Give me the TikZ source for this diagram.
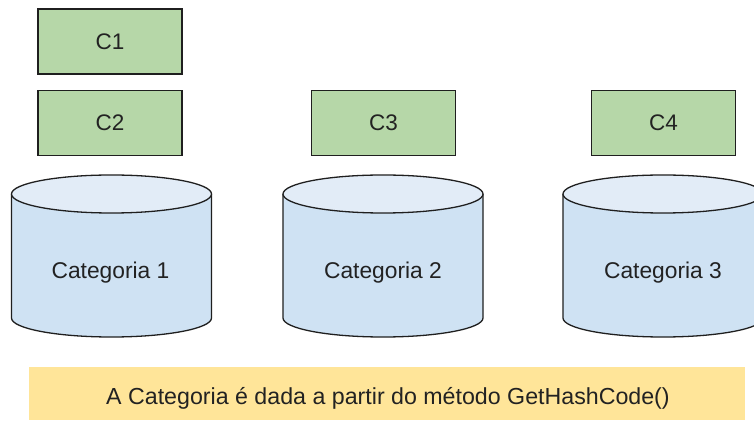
\documentclass[tikz,border=0pt]{standalone}
\usepackage{fontspec}
\setmainfont{Liberation Sans}
\definecolor{boxgreen}{HTML}{B6D7A8}
\definecolor{cylbody}{HTML}{CFE2F3}
\definecolor{cyltop}{HTML}{E2ECF7}
\definecolor{banner}{HTML}{FFE599}
\definecolor{edge}{HTML}{1F1F1F}
\definecolor{txt}{HTML}{222222}
\tikzset{
  cbox/.style={draw=edge, line width=1.3pt, fill=boxgreen, minimum width=144pt, minimum height=65pt, inner sep=0pt, text=txt, font=\fontsize{22.5}{26}\selectfont},
  cyllabel/.style={text=txt, font=\fontsize{22.8}{26}\selectfont, inner sep=0pt},
  notelabel/.style={text=txt, font=\fontsize{23.2}{26}\selectfont, inner sep=0pt},
  cylline/.style={draw=edge, line width=1.3pt},
}
\newcommand{\mycyl}[2]{%
  \fill[cylbody] (#1-100,226) -- (#1-100,102) arc[start angle=180, end angle=360, x radius=100, y radius=19] -- (#1+100,226) -- cycle;
  \draw[cylline] (#1-100,226) -- (#1-100,102) arc[start angle=180, end angle=360, x radius=100, y radius=19] -- (#1+100,226);
  \draw[cylline, fill=cyltop] (#1,226) ellipse[x radius=100, y radius=19];
}
\begin{document}
\begin{tikzpicture}[x=1pt,y=1pt]
\useasboundingbox (0,0) rectangle (754,420);
\clip (0,0) rectangle (754,420);
\node[cbox] (c1) at (110,378.5) {C1};
\node[cbox] (c2) at (110,297) {C2};
\node[cbox] (c3) at (383.5,297) {C3};
\node[cbox] (c4) at (663.5,297) {C4};
\mycyl{111.5}{1}
\mycyl{383}{2}
\mycyl{663}{3}
\node[cyllabel] (cat1) at (110.5,147) {Categoria 1};
\node[cyllabel] (cat2) at (383,147) {Categoria 2};
\node[cyllabel] (cat3) at (663,147) {Categoria 3};
\fill[banner] (29,0) rectangle (745,53);
\node[notelabel] (note) at (388,22) {A Categoria é dada a partir do método GetHashCode()};
\end{tikzpicture}
\end{document}
